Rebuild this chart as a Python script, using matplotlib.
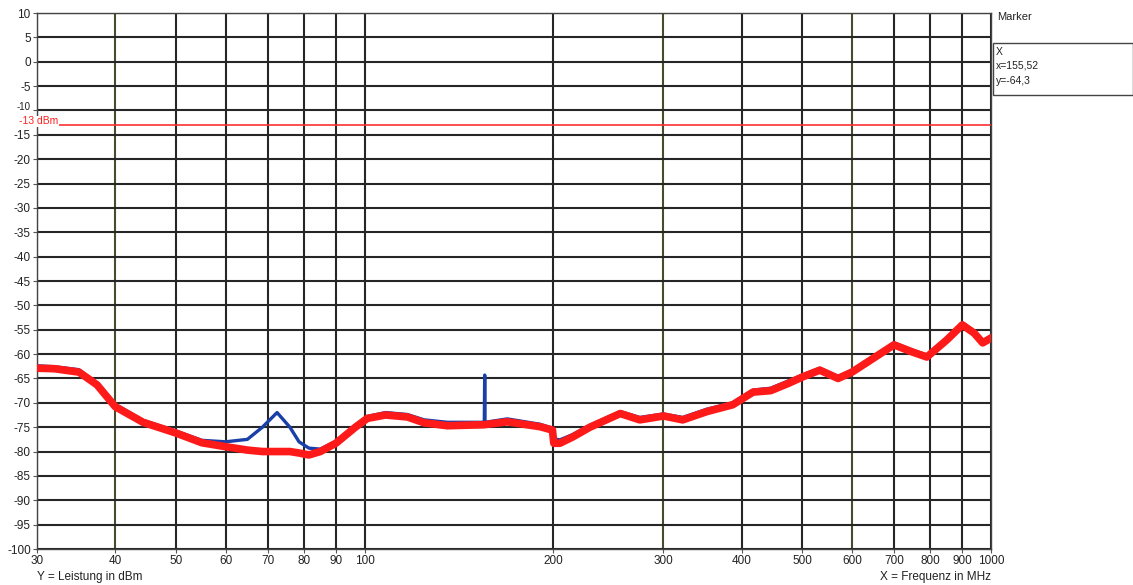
import matplotlib
matplotlib.use("Agg")
import matplotlib.pyplot as plt
from matplotlib.patches import Rectangle
import matplotlib.transforms as mtransforms

plt.rcParams['font.family'] = ['Liberation Sans', 'DejaVu Sans']

# ---- data ----
freq_red = [30, 32, 35, 37.4, 40, 44.3, 50, 55, 60, 65, 68.7, 72.5, 76, 78.6, 81.5, 85, 90,
            96.7, 101, 108, 117, 124.5, 135.6, 155, 169, 190.6, 199.5,
            200.5, 205, 215, 229, 256, 275, 300, 322, 352, 387, 417, 445, 475, 500, 533,
            570, 600, 650, 700, 750, 790, 850, 900, 940, 970, 1000]
level_red = [-62.9, -63.0, -63.7, -66.3, -70.8, -74.0, -76.2, -78.2, -79.0, -79.7, -80.0, -80.0,
             -80.0, -80.3, -80.7, -80.0, -78.3, -75.0, -73.2, -72.5, -72.9, -74.1, -74.7, -74.5,
             -73.9, -74.9, -75.6,
             -78.3, -78.3, -77.0, -75.0, -72.2, -73.5, -72.7, -73.5, -71.8, -70.4, -67.8, -67.5,
             -66.0, -64.7, -63.3, -65.0, -63.7, -60.8, -58.1, -59.6, -60.6, -57.1, -54.0, -55.7,
             -57.7, -56.7]

freq_blue = [30, 32, 35, 37.4, 40, 44.3, 50, 55, 60, 65, 68.7, 72.5, 76, 78.6, 81.5, 85, 90,
             96.7, 101, 108, 117, 124.5, 135.6, 155.3, 155.52, 155.7, 169, 190.6, 199.5,
             200.5, 205, 215, 229, 256, 275, 300, 322, 352, 387, 417, 445, 475, 500, 533,
             570, 600, 650, 700, 750, 790, 850, 900, 940, 970, 1000]
level_blue = [-62.4, -62.6, -63.2, -66.0, -70.3, -73.6, -75.8, -77.7, -78.0, -77.5, -75.0, -72.0,
              -75.0, -78.0, -79.3, -79.5, -77.9, -74.6, -72.8, -72.0, -72.4, -73.5, -74.0, -74.0,
              -64.3, -74.0, -73.3, -74.4, -75.2,
              -77.4, -77.6, -76.5, -74.6, -71.8, -73.0, -72.3, -73.0, -71.3, -70.0, -67.4, -67.0,
              -65.5, -64.3, -62.9, -64.6, -63.3, -60.4, -57.7, -59.2, -60.2, -56.7, -53.6, -55.3,
              -57.3, -56.3]

limit_level = -13
x_ticks = [30, 40, 50, 60, 70, 80, 90, 100, 200, 300, 400, 500, 600, 700, 800, 900, 1000]
y_ticks = list(range(-100, 11, 5))
marker_x, marker_y = "155,52", "-64,3"

# ---- figure ----
fig = plt.figure(figsize=(11.33, 5.85), dpi=100)
ax = fig.add_axes([37 / 1133, 1 - 549 / 585, (991 - 37) / 1133, (549 - 13) / 585])
ax.set_xscale('log')
ax.set_xlim(30, 1000)
ax.set_ylim(-100, 10)

grid_col = '#262626'
for t in x_ticks:
    c = '#4a4a2e' if t in (40, 300, 600) else grid_col
    ax.axvline(t, color=c, lw=1.5, zorder=1)
for t in y_ticks:
    ax.axhline(t, color=grid_col, lw=1.5, zorder=1)

ax.plot(freq_blue, level_blue, color='#1a3fa8', lw=2.4, zorder=3)
ax.plot(freq_red, level_red, color='#ff1a1a', lw=5.5, zorder=4, solid_joinstyle='round')
ax.axhline(limit_level, color='#ff3030', lw=1.2, zorder=2)

ax.set_xticks(x_ticks)
ax.set_xticklabels([str(t) for t in x_ticks])
ax.minorticks_off()
ax.set_yticks(y_ticks)
ax.set_yticklabels([str(t) for t in y_ticks])
ax.tick_params(axis='both', labelsize=8.5, length=3, width=0.8, color='#555555', pad=1.5,
               labelcolor='#222222')
for s in ax.spines.values():
    s.set_color('#444444')
    s.set_linewidth(1.0)

# the -10 label sits slightly above its gridline, as partly hidden in the reference
for lbl, t in zip(ax.get_yticklabels(), y_ticks):
    if t == -10:
        lbl.set_fontsize(7)
        lbl.set_transform(lbl.get_transform() +
                          mtransforms.ScaledTranslation(0, 3 / 72, fig.dpi_scale_trans))

ax.text(-0.019, -12.2, "-13 dBm", transform=ax.get_yaxis_transform(), color='#ff2020',
        fontsize=7.5, ha='left', va='center', zorder=10, clip_on=False,
        bbox=dict(facecolor='white', edgecolor='none', pad=0.3))

fig.text(37 / 1133, 1 - 577 / 585, "Y = Leistung in dBm", fontsize=8.5, ha='left', va='center',
         color='#222222')
fig.text(991 / 1133, 1 - 577 / 585, "X = Frequenz in MHz", fontsize=8.5, ha='right', va='center',
         color='#222222')

fig.text(997 / 1133, 1 - 17 / 585, "Marker", fontsize=8, ha='left', va='center', color='#222222')
fig.patches.append(Rectangle((993 / 1133, 1 - 95 / 585), 140 / 1133, 52 / 585,
                             transform=fig.transFigure, fill=False, edgecolor='#444444', lw=1.0))
fig.text(996 / 1133, 1 - 52 / 585, "X", fontsize=7.5, ha='left', va='center', color='#222222')
fig.text(996 / 1133, 1 - 66 / 585, "x=" + marker_x, fontsize=7.5, ha='left', va='center',
         color='#222222')
fig.text(996 / 1133, 1 - 81 / 585, "y=" + marker_y, fontsize=7.5, ha='left', va='center',
         color='#222222')

fig.savefig("out.png", dpi=100, facecolor='white')
